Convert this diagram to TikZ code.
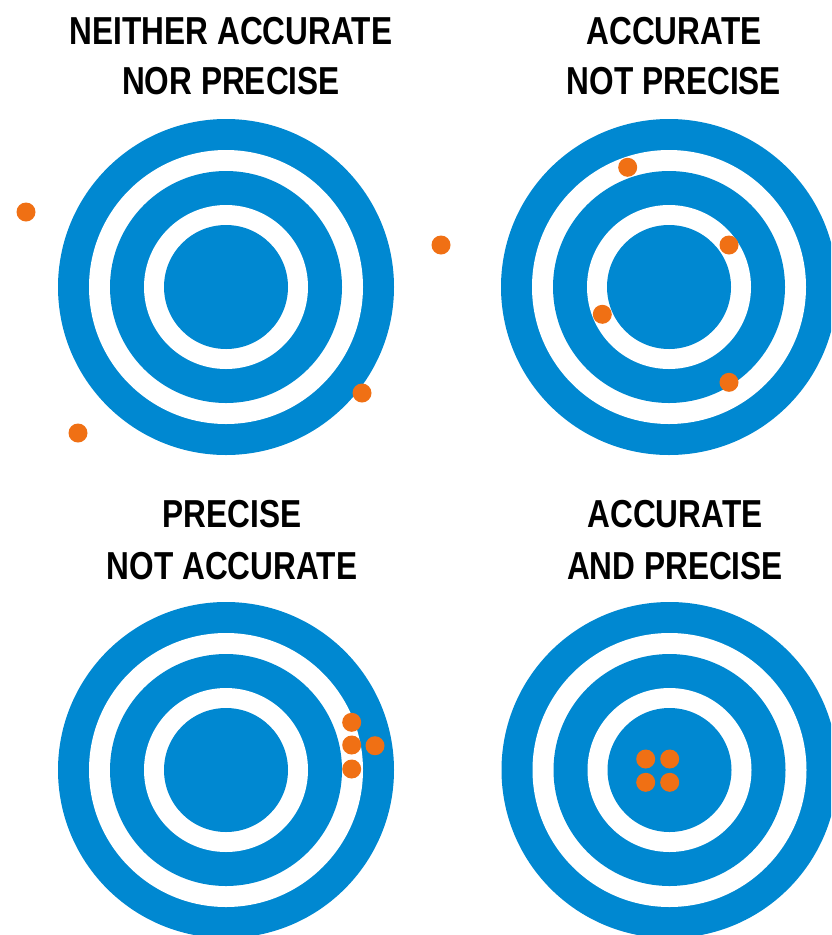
\documentclass[tikz,border=0pt]{standalone}
\usepackage{fontspec}
\setmainfont{Liberation Sans}[FakeStretch=0.81]
\definecolor{tblue}{HTML}{0088D1}
\definecolor{tdot}{HTML}{F07014}
\begin{document}
\begin{tikzpicture}[x=1pt,y=-1pt,
  title/.style={font=\bfseries\fontsize{39}{50}\selectfont, text=black, inner sep=0pt, anchor=base},
  ringblue/.style={fill=tblue},
  ringwhite/.style={fill=white},
  hit/.style={fill=tdot}]
\useasboundingbox (0,0) rectangle (831,935);
\clip (0,0) rectangle (831,935);
\fill[white] (0,0) rectangle (831,935);
% targets
\foreach \cx/\cy [count=\i] in {226/287, 669/287, 226/770, 669.5/770}{
  \coordinate (c\i) at (\cx,\cy);
  \fill[ringblue]  (c\i) circle[radius=168pt];
  \fill[ringwhite] (c\i) circle[radius=137pt];
  \fill[ringblue]  (c\i) circle[radius=116pt];
  \fill[ringwhite] (c\i) circle[radius=82pt];
  \fill[ringblue]  (c\i) circle[radius=62pt];
}
% titles
\node[title] (t1a) at (231,44) {NEITHER ACCURATE};
\node[title] (t1b) at (231,94) {NOR PRECISE};
\node[title] (t2a) at (674,44) {ACCURATE};
\node[title] (t2b) at (674,94) {NOT PRECISE};
\node[title] (t3a) at (232,527) {PRECISE};
\node[title] (t3b) at (232,579) {NOT ACCURATE};
\node[title] (t4a) at (675,527) {ACCURATE};
\node[title] (t4b) at (675,579) {AND PRECISE};
% hits
\foreach \x/\y in {26/212, 441/245, 362/393, 78/433,
                   627.7/167.3, 729/245, 602.3/314.3, 729/382.3,
                   351.7/722.3, 351.7/745, 375/745.7, 351.7/769,
                   645.7/759, 669.7/759, 645.7/782.3, 669.7/782.3}{
  \fill[hit] (\x,\y) circle[radius=9.5pt];
}
\end{tikzpicture}
\end{document}
